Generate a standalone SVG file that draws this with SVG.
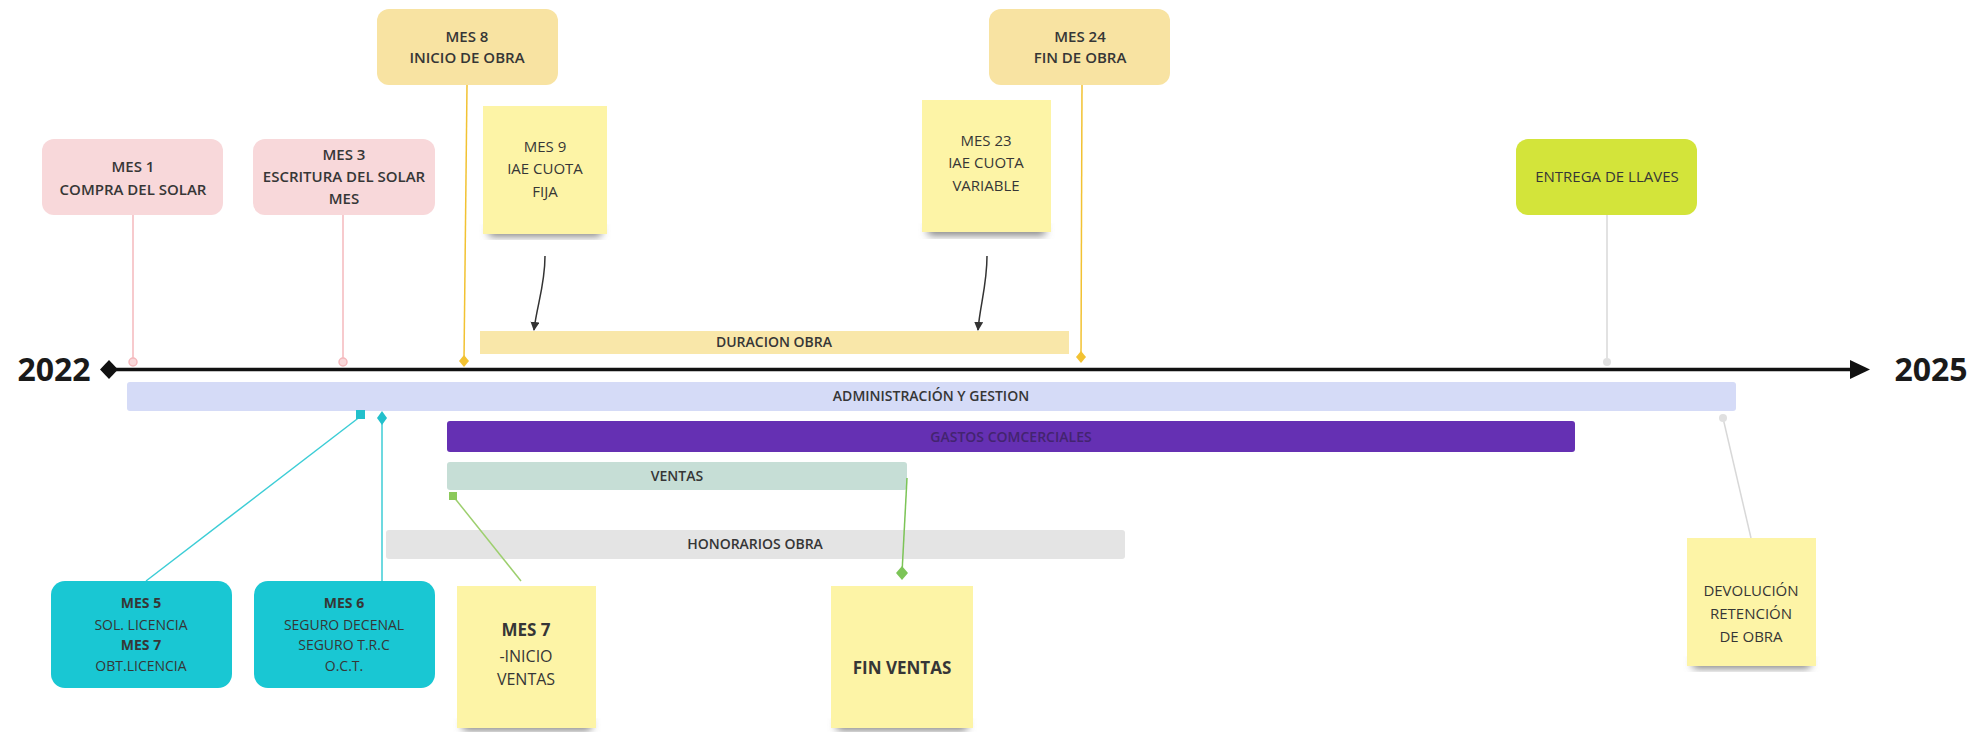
<svg xmlns="http://www.w3.org/2000/svg" width="1984" height="732" viewBox="0 0 1984 732">
<defs>
<style>
text{font-family:"Open Sans","Noto Sans","Liberation Sans",sans-serif;fill:#363636;text-anchor:middle}
.t{font-size:14px}
.h{font-size:15px;font-weight:600}
.s{font-size:15px}
.b{font-weight:700}
.bar{font-size:14px;font-weight:600}
.pink{fill:#f8d8da}
.gold{fill:#f8e3a2}
.sticky{fill:#fdf4a6}
.teal{fill:#19c7d3}
.year{font-size:32px;font-weight:700;fill:#1a1a1a}
</style>
<filter id="sh" x="-20%" y="-20%" width="140%" height="160%">
<feGaussianBlur stdDeviation="4"/>
</filter>
<marker id="ah" viewBox="0 0 10 10" refX="9" refY="5" markerWidth="6" markerHeight="6" orient="auto">
<path d="M0,0 L10,5 L0,10 z" fill="#333"/>
</marker>
</defs>
<rect width="1984" height="732" fill="#fff"/>

<g id="bars">
<g id="duracion-obra"><rect x="480" y="331" width="589" height="23" fill="#f9e7a9"/><text class="bar" x="774" y="347">DURACION OBRA</text></g>
<g id="administracion"><rect x="127" y="382" width="1609" height="29" rx="3" fill="#d5dbf7"/><text class="bar" x="931" y="401">ADMINISTRACIÓN Y GESTION</text></g>
<g id="gastos"><rect x="447" y="421" width="1128" height="31" rx="3" fill="#6530b3"/><text class="bar" x="1011" y="442" style="fill:#43246f">GASTOS COMCERCIALES</text></g>
<g id="ventas"><rect x="447" y="462" width="460" height="28" rx="3" fill="#c6ded6"/><text class="bar" x="677" y="481">VENTAS</text></g>
<g id="honorarios"><rect x="386" y="530" width="739" height="29" rx="3" fill="#e4e4e4"/><text class="bar" x="755" y="549">HONORARIOS OBRA</text></g>
</g>

<g id="connectors" fill="none">
<line x1="133" y1="215" x2="133" y2="362" stroke="#f4b8bc" stroke-width="1.5"/>
<line x1="343" y1="215" x2="343" y2="362" stroke="#f4b8bc" stroke-width="1.5"/>
<line x1="467" y1="85" x2="464" y2="361" stroke="#f2c232" stroke-width="1.5"/>
<line x1="1082" y1="85" x2="1081" y2="357" stroke="#f2c232" stroke-width="1.5"/>
<line x1="1607" y1="215" x2="1607" y2="362" stroke="#d8d8d8" stroke-width="1.5"/>
<path d="M545,256 C545,285 537,305 534,330" stroke="#333" stroke-width="1.5" marker-end="url(#ah)"/>
<path d="M987,256 C987,285 980,305 978,330" stroke="#333" stroke-width="1.5" marker-end="url(#ah)"/>
<line x1="146" y1="581" x2="361" y2="416" stroke="#3ccdd6" stroke-width="1.5"/>
<line x1="382" y1="581" x2="382" y2="418" stroke="#3ccdd6" stroke-width="1.5"/>
<line x1="521" y1="581" x2="453" y2="496" stroke="#9dcf6e" stroke-width="1.5"/>
<line x1="907" y1="478" x2="902" y2="573" stroke="#7cc457" stroke-width="1.5"/>
<line x1="1751" y1="538" x2="1723" y2="418" stroke="#d8d8d8" stroke-width="1.5"/>
<circle cx="133" cy="362" r="4" fill="#f8d8da" stroke="#f4b8bc" stroke-width="1.5"/>
<circle cx="343" cy="362" r="4" fill="#f8d8da" stroke="#f4b8bc" stroke-width="1.5"/>
<path d="M464,355 L469,361 L464,367 L459,361 z" fill="#f2c232"/>
<path d="M1081,351 L1086,357 L1081,363 L1076,357 z" fill="#f2c232"/>
<circle cx="1607" cy="362" r="4" fill="#e0e0e0"/>
<rect x="356" y="410" width="9" height="9" fill="#22c0cc"/>
<path d="M382,411 L387,418 L382,425 L377,418 z" fill="#22c0cc"/>
<rect x="449" y="492" width="8" height="8" fill="#8cc95b"/>
<path d="M902,566 L908,573 L902,580 L896,573 z" fill="#7cc457"/>
<circle cx="1723" cy="418" r="4" fill="#e0e0e0"/>
</g>

<g id="axis">
<line x1="109" y1="369.5" x2="1852" y2="369.5" stroke="#111" stroke-width="3.5"/>
<path d="M1850,360 L1870,369.5 L1850,379 z" fill="#111"/>
<path d="M109,360 L118,369.5 L109,379 L100,369.5 z" fill="#111"/>
<text class="year" x="54" y="381">2022</text>
<text class="year" x="1931" y="381">2025</text>
</g>

<g id="mes1"><rect class="pink" x="42" y="139" width="181" height="76" rx="12"/><text class="h"><tspan x="133" y="172">MES 1</tspan><tspan x="133" y="195">COMPRA DEL SOLAR</tspan></text></g>
<g id="mes3"><rect class="pink" x="253" y="139" width="182" height="76" rx="12"/><text class="h"><tspan x="344" y="160">MES 3</tspan><tspan x="344" y="182">ESCRITURA DEL SOLAR</tspan><tspan x="344" y="204">MES</tspan></text></g>
<g id="mes8"><rect class="gold" x="377" y="9" width="181" height="76" rx="12"/><text class="h"><tspan x="467" y="42">MES 8</tspan><tspan x="467" y="63">INICIO DE OBRA</tspan></text></g>
<g id="mes24"><rect class="gold" x="989" y="9" width="181" height="76" rx="12"/><text class="h"><tspan x="1080" y="42">MES 24</tspan><tspan x="1080" y="63">FIN DE OBRA</tspan></text></g>
<g id="llaves"><rect x="1516" y="139" width="181" height="76" rx="12" fill="#d3e43a"/><text class="s" x="1607" y="182">ENTREGA DE LLAVES</text></g>

<g id="mes9"><rect x="489" y="226" width="112" height="10" fill="#777" filter="url(#sh)"/><rect class="sticky" x="483" y="106" width="124" height="128"/><text class="s"><tspan x="545" y="152">MES 9</tspan><tspan x="545" y="174">IAE CUOTA</tspan><tspan x="545" y="197">FIJA</tspan></text></g>
<g id="mes23"><rect x="928" y="225" width="117" height="10" fill="#777" filter="url(#sh)"/><rect class="sticky" x="922" y="100" width="129" height="132"/><text class="s"><tspan x="986" y="146">MES 23</tspan><tspan x="986" y="168">IAE CUOTA</tspan><tspan x="986" y="191">VARIABLE</tspan></text></g>

<g id="mes5"><rect class="teal" x="51" y="581" width="181" height="107" rx="14"/><text class="t"><tspan class="b" x="141" y="608">MES 5</tspan><tspan x="141" y="630">SOL. LICENCIA</tspan><tspan class="b" x="141" y="650">MES 7</tspan><tspan x="141" y="671">OBT.LICENCIA</tspan></text></g>
<g id="mes6"><rect class="teal" x="254" y="581" width="181" height="107" rx="14"/><text class="t"><tspan class="b" x="344" y="608">MES 6</tspan><tspan x="344" y="630">SEGURO DECENAL</tspan><tspan x="344" y="650">SEGURO T.R.C</tspan><tspan x="344" y="671">O.C.T.</tspan></text></g>
<g id="mes7"><rect x="463" y="720" width="128" height="10" fill="#777" filter="url(#sh)"/><rect class="sticky" x="457" y="586" width="139" height="142"/><text style="font-size:16px"><tspan class="b" x="526" y="636" style="font-size:17px">MES 7</tspan><tspan x="526" y="662">-INICIO</tspan><tspan x="526" y="685">VENTAS</tspan></text></g>
<g id="finventas"><rect x="837" y="720" width="130" height="10" fill="#777" filter="url(#sh)"/><rect class="sticky" x="831" y="586" width="142" height="142"/><text class="b" x="902" y="674" style="font-size:17px">FIN VENTAS</text></g>
<g id="devolucion"><rect x="1693" y="658" width="117" height="10" fill="#777" filter="url(#sh)"/><rect class="sticky" x="1687" y="538" width="129" height="128"/><text class="s"><tspan x="1751" y="596">DEVOLUCIÓN</tspan><tspan x="1751" y="619">RETENCIÓN</tspan><tspan x="1751" y="642">DE OBRA</tspan></text></g>
</svg>
